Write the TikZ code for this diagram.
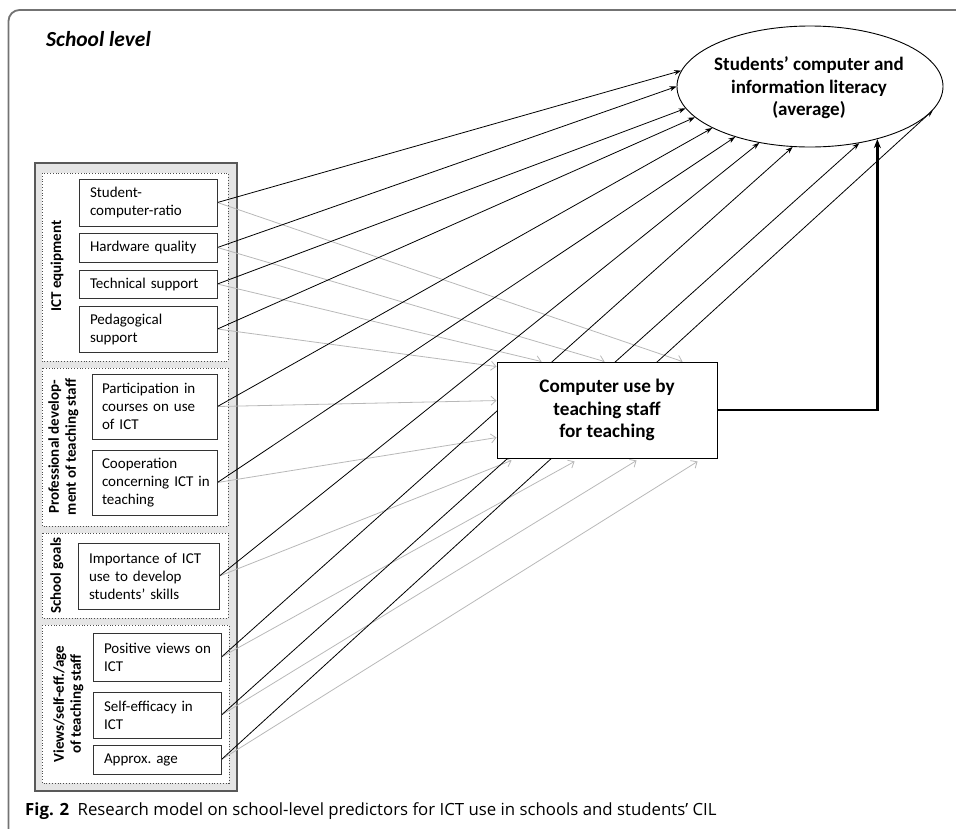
\documentclass[tikz,border=0pt]{standalone}
\usepackage{fontspec}
\setmainfont{Carlito}
\newfontfamily\capfont{Open Sans}
\usetikzlibrary{shapes.geometric,arrows.meta,calc}
\pgfdeclarelayer{panel}
\pgfdeclarelayer{lines}
\pgfsetlayers{panel,lines,main}
\begin{document}
\begin{tikzpicture}[x=1pt,y=-1pt,
  ibox/.style={draw=black!80, line width=0.9pt, fill=white, inner sep=0pt,
    font=\fontsize{15}{18}\selectfont, align=left},
  grp/.style={draw=black!70, dotted, line width=0.8pt, fill=white},
  vlab/.style={rotate=90, font=\bfseries\fontsize{15}{17}\selectfont, align=center, inner sep=0pt},
  blk/.style={draw=black, line width=0.8pt, -{Stealth[length=7pt,width=5pt]}},
  gry/.style={draw=black!28, line width=0.8pt, -{Straight Barb[length=5pt,width=9pt]}},
  thk/.style={draw=black, line width=2.4pt, -{Stealth[length=9pt,width=7pt]}}
]
\useasboundingbox (0,0) rectangle (956,828);

% frame and panel
\begin{pgfonlayer}{panel}
\draw[draw=black!55, line width=1.8pt, rounded corners=11pt] (960,10) -- (8.5,10) -- (8.5,832);
\draw[draw=black!65, line width=1.5pt, fill=black!10] (35,163) rectangle (237,791);
\draw[grp] (42,173) rectangle (228,361);
\draw[grp] (42,368) rectangle (228,526);
\draw[grp] (42,533) rectangle (228,618);
\draw[grp] (42,625) rectangle (229,783);
\end{pgfonlayer}

\node[anchor=base west, inner sep=0pt, font=\bfseries\itshape\fontsize{21.5}{24}\selectfont] (title) at (46,46) {School level};

% group labels
\node[vlab] (l1) at (57,266) {ICT equipment};
\node[vlab] (l2) at (63.5,447) {Professional develop-\\ment of teaching staff};
\node[vlab] (l3) at (57,575.5) {School goals};
\node[vlab] (l4) at (68.5,704) {Views/self-eff./age\\of teaching staff};

% predictor boxes
\node[ibox, minimum width=138, minimum height=47, text width=116] (sr) at (148,202.5) {\mbox{Student-}\\\mbox{computer-ratio}};
\node[ibox, minimum width=138, minimum height=29, text width=116] (hq) at (148,247.5) {\mbox{Hardware quality}};
\node[ibox, minimum width=138, minimum height=28, text width=116] (ts) at (148,284) {\mbox{Technical support}};
\node[ibox, minimum width=138, minimum height=46, text width=116] (ps) at (148,329) {\mbox{Pedagogical}\\\mbox{support}};
\node[ibox, minimum width=125, minimum height=65, text width=105] (pc) at (154.5,406.5) {\mbox{Participation in}\\\mbox{courses on use}\\\mbox{of ICT}};
\node[ibox, minimum width=125, minimum height=65, text width=105] (co) at (154.5,482.5) {\mbox{Cooperation}\\\mbox{concerning ICT in}\\\mbox{teaching}};
\node[ibox, minimum width=141, minimum height=66, text width=119] (im) at (148.5,576) {\mbox{Importance of ICT}\\\mbox{use to develop}\\\mbox{students’ skills}};
\node[ibox, minimum width=128, minimum height=48, text width=106] (pv) at (157,657) {\mbox{Positive views on}\\\mbox{ICT}};
\node[ibox, minimum width=128, minimum height=46, text width=106] (se) at (157,715) {\mbox{Self-efficacy in}\\\mbox{ICT}};
\node[ibox, minimum width=128, minimum height=29, text width=106] (aa) at (157,759.5) {\mbox{Approx.\ age}};

% outcome ellipse
\node[ellipse, draw=black, line width=0.9pt, fill=white, minimum width=266, minimum height=121, inner sep=0pt] (cil) at (810,86.5) {};
\node[font=\bfseries\fontsize{19}{22.5}\selectfont, align=center, inner sep=0pt] (cilt) at (809,88) {Students’ computer and\\information literacy\\(average)};

% mediator box
\node[draw=black, line width=0.9pt, fill=white, minimum width=220, minimum height=96, inner sep=0pt,
  font=\bfseries\fontsize{19.2}{22.5}\selectfont, align=center] (cp) at (607,410) {Computer use by\\teaching staff\\for teaching};

\begin{pgfonlayer}{lines}
% gray paths to mediator
\draw[gry] (sr.east) -- ([xshift=186pt]cp.north west);
\draw[gry] (hq.east) -- ([xshift=108pt]cp.north west);
\draw[gry] (ts.east) -- ([xshift=45pt]cp.north west);
\draw[gry] (ps.east) -- ([yshift=-5pt]cp.north west);
\draw[gry] (pc.east) -- ([yshift=-39pt]cp.north west);
\draw[gry] (co.east) -- ([yshift=-76pt]cp.north west);
\draw[gry] (im.east) -- ([xshift=15pt,yshift=-2pt]cp.south west);
\draw[gry] (pv.east) -- ([xshift=78pt,yshift=-3pt]cp.south west);
\draw[gry] (se.east) -- ([xshift=140pt,yshift=-2pt]cp.south west);
\draw[gry] (aa.east) -- ([xshift=201pt,yshift=-3pt]cp.south west);
% black paths to outcome
\draw[blk] (sr.east) -- (cil.173.3);
\draw[blk] (hq.east) -- (cil.180.5);
\draw[blk] (ts.east) -- (cil.190.3);
\draw[blk] (ps.east) -- (cil.195.6);
\draw[blk] (pc.east) -- (cil.203.9);
\draw[blk] (co.east) -- (cil.214.8);
\draw[blk] (im.east) -- (cil.228.4);
\draw[blk] (pv.east) -- (cil.254.4);
\draw[blk] (se.east) -- (cil.311);
\draw[blk] (aa.east) -- (cil.349.5);
% thick mediator path
\draw[thk] (cp.east) -| (cil.322.8);
\end{pgfonlayer}

% caption
\node[anchor=base west, inner sep=0pt, font=\capfont\fontsize{16.8}{20}\selectfont] (cap) at (25,815)
  {\textbf{Fig. 2}\hspace{0.5em}Research model on school-level predictors for ICT use in schools and students’ CIL};
\end{tikzpicture}
\end{document}
